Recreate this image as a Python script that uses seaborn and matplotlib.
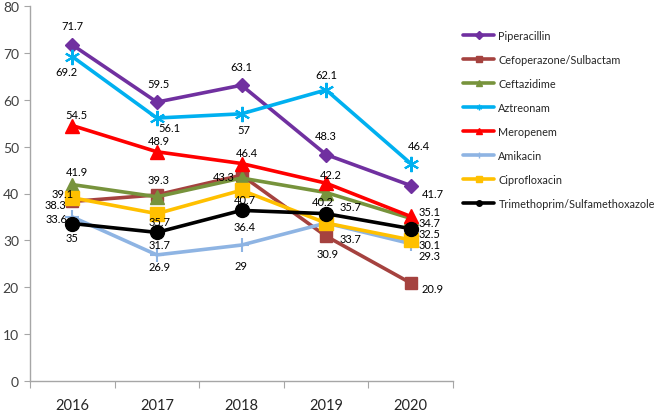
import matplotlib.pyplot as plt
from matplotlib.lines import Line2D
import seaborn as sns

# --- data ---
years = ["2016", "2017", "2018", "2019", "2020"]
piperacillin = [71.7, 59.5, 63.1, 48.3, 41.7]
cefoperazone = [38.3, 39.7, 43.9, 30.9, 20.9]
ceftazidime = [41.9, 39.3, 43.3, 40.2, 34.7]
aztreonam = [69.2, 56.1, 57.0, 62.1, 46.4]
meropenem = [54.5, 48.9, 46.4, 42.2, 35.1]
amikacin = [35.0, 26.9, 29.0, 33.7, 29.3]
ciprofloxacin = [39.1, 35.7, 40.7, 33.7, 30.1]
tmp_smx = [33.6, 31.7, 36.4, 35.7, 32.5]

series = [
    ("Piperacillin", piperacillin),
    ("Cefoperazone/Sulbactam", cefoperazone),
    ("Ceftazidime", ceftazidime),
    ("Aztreonam", aztreonam),
    ("Meropenem", meropenem),
    ("Amikacin", amikacin),
    ("Ciprofloxacin", ciprofloxacin),
    ("Trimethoprim/Sulfamethoxazole", tmp_smx),
]

# colour, marker, marker size, edge width
styles = {
    "Piperacillin": ("#7030A0", "D", 7, 1),
    "Cefoperazone/Sulbactam": ("#A5423F", "s", 9, 1),
    "Ceftazidime": ("#77933C", "^", 10, 1),
    "Aztreonam": ("#00B0F0", (6, 2, 0), 11, 1.5),
    "Meropenem": ("#FF0000", "^", 10, 1),
    "Amikacin": ("#8EB4E3", "+", 10, 1.5),
    "Ciprofloxacin": ("#FFC000", "s", 10, 1),
    "Trimethoprim/Sulfamethoxazole": ("#000000", "o", 10, 1),
}

# label offsets in pixels (dx, dy downwards); None = label hidden behind another
label_offsets = {
    "Piperacillin": [(0, -19), (2, -19), (0, -19), (0, -19), (22, 8)],
    "Cefoperazone/Sulbactam": [(-17, 3), None, None, (2, 17), (22, 5)],
    "Ceftazidime": [(5, -13), (2, -17), (-18, -2), (-3, 9), (19, 4)],
    "Aztreonam": [(-6, 15), (13, 9), (2, 16), (0, -15), (8, -18)],
    "Meropenem": [(4, -11), (2, -11), (5, -11), (5, -9), (19, -5)],
    "Amikacin": [(0, 21), (3, 12), (0, 20), None, (19, 12)],
    "Ciprofloxacin": [(-10, -4), (3, 8), (3, 9), (24, 15), (19, 5)],
    "Trimethoprim/Sulfamethoxazole": [(-16, -5), (3, 12), (3, 16), (24, -7), (19, 5)],
}

sns.set_style("white")
plt.rcParams["font.family"] = ["Lato", "DejaVu Sans"]

fig = plt.figure(figsize=(6.6, 4.14), dpi=100)
ax = fig.add_axes([30 / 660, 1 - 382 / 414, 423 / 660, 375 / 414])

pos = list(range(len(years)))
handles = []
for name, vals in series:
    color, marker, ms, mew = styles[name]
    sns.lineplot(x=pos, y=vals, ax=ax, color=color, linewidth=2.6,
                 marker=marker, markersize=ms, markeredgecolor=color,
                 markerfacecolor=color, markeredgewidth=mew)
    for i, v in enumerate(vals):
        off = label_offsets[name][i]
        if off is None:
            continue
        ax.annotate(f"{v:g}", (i, v), xytext=(off[0], -off[1]),
                    textcoords="offset pixels", ha="center", va="center",
                    fontsize=8, color="#000000")
    handles.append(Line2D([], [], color=color, linewidth=2.6, marker=marker,
                          markersize=4, markeredgecolor=color,
                          markerfacecolor=color, markeredgewidth=1))

ax.set_xlim(-0.5, 4.5)
ax.set_ylim(0, 80)
ax.set_yticks(range(0, 81, 10))
ax.set_xticks([i - 0.5 for i in range(len(years) + 1)])
ax.set_xticklabels([])
ax.set_xticks(pos, minor=True)
ax.set_xticklabels(years, minor=True)
ax.tick_params(axis="x", which="major", length=5, width=0.8, color="#A6A6A6",
               direction="out", bottom=True)
ax.tick_params(axis="x", which="minor", length=0, labelsize=10.5,
               labelcolor="#262626", pad=12)
ax.tick_params(axis="y", length=4, width=0.8, color="#A6A6A6", direction="out",
               left=True, labelsize=10, labelcolor="#404040", pad=4)
for side in ["top", "right"]:
    ax.spines[side].set_visible(False)
for side in ["left", "bottom"]:
    ax.spines[side].set_color("#A6A6A6")
    ax.spines[side].set_linewidth(1)
ax.set_xlabel("")
ax.set_ylabel("")

fig.legend(handles, [n for n, _ in series], loc="upper left",
           bbox_to_anchor=(463 / 660, 1 - 31 / 414), frameon=False,
           borderpad=0, borderaxespad=0, fontsize=7.8, labelspacing=1.2,
           handlelength=2.9, handletextpad=0.37)

fig.savefig("out.png", dpi=100)
